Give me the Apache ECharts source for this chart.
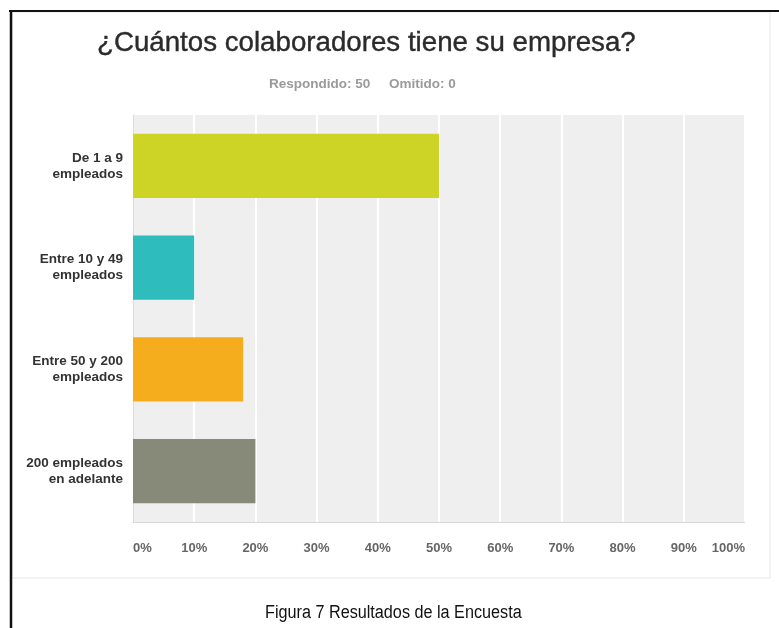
<!DOCTYPE html>
<html>
<head>
<meta charset="utf-8">
<script src="https://cdn.jsdelivr.net/npm/echarts@6/dist/echarts.min.js"></script>
<style>
html,body{margin:0;padding:0;background:#fff;}
#chart{width:779px;height:628px;}
</style>
</head>
<body>
<div id="chart"></div>
<script>
var categories = ['De 1 a 9\nempleados', 'Entre 10 y 49\nempleados', 'Entre 50 y 200\nempleados', '200 empleados\nen adelante'];
var values = [50, 10, 18, 20];
var barColors = ['#cdd426', '#2fbcbd', '#f5ad1e', '#888a79'];
var titleText = '¿Cuántos colaboradores tiene su empresa?';
var subtitleText = 'Respondido: 50     Omitido: 0';
var captionText = 'Figura 7 Resultados de la Encuesta';

var chart = echarts.init(document.getElementById('chart'), null, {renderer: 'canvas'});
var option = {
  backgroundColor: '#ffffff',
  animation: false,
  title: [
    {text: titleText, left: 92, top: 24,
     textStyle: {fontFamily: 'Liberation Sans, Arial, sans-serif', fontSize: 27.7, fontWeight: 'normal', color: '#2b2b2b', textBorderColor: '#2b2b2b', textBorderWidth: 0.4}},
    {text: subtitleText, left: 264, top: 72,
     textStyle: {fontFamily: 'Liberation Sans, Arial, sans-serif', fontSize: 13.5, fontWeight: 'bold', color: '#9a9a9a'}}
  ],
  graphic: [
    {type: 'rect', z: -10, shape: {x: 12, y: 12, width: 758, height: 566}, style: {fill: '#ffffff', stroke: '#e6e6e6', lineWidth: 1}},
    {type: 'rect', z: -5, shape: {x: 133, y: 115, width: 612, height: 407}, style: {fill: '#efefef'}},
    {type: 'line', shape: {x1: 9, y1: 11, x2: 779, y2: 11}, style: {stroke: '#111', lineWidth: 2}},
    {type: 'line', shape: {x1: 11, y1: 10, x2: 11, y2: 628}, style: {stroke: '#111', lineWidth: 2.5}},
    {type: 'text', x: 265, y: 604, scaleX: 0.9, originX: 0, originY: 0,
     style: {text: captionText, fontFamily: 'Liberation Sans, Arial, sans-serif', fontSize: 18, fill: '#111'}}
  ],
  grid: {left: 133, right: 34, top: 115, bottom: 106, containLabel: false},
  xAxis: {
    type: 'value', min: 0, max: 100, interval: 10,
    axisLine: {show: false},
    axisTick: {show: false},
    splitLine: {show: true, lineStyle: {color: '#ffffff', width: 2}},
    axisLabel: {formatter: '{value}%', color: '#666', fontSize: 13, fontWeight: 'bold',
      fontFamily: 'Liberation Sans, Arial, sans-serif', margin: 20,
      alignMinLabel: 'left', alignMaxLabel: 'right'}
  },
  yAxis: {
    type: 'category', data: categories, inverse: true,
    axisLine: {show: true, lineStyle: {color: '#dcdcdc'}},
    axisTick: {show: false},
    axisLabel: {color: '#333', fontSize: 13.5, fontWeight: 'bold', lineHeight: 16,
      fontFamily: 'Liberation Sans, Arial, sans-serif', margin: 10, align: 'right'}
  },
  series: [{
    type: 'bar',
    data: values.map(function(v, i){ return {value: v, itemStyle: {color: barColors[i]}}; }),
    barWidth: '63%',
    markLine: {silent: true, symbol: 'none', label: {show: false},
      lineStyle: {color: '#d8d8d8', type: 'solid', width: 1},
      data: [[{coord: [0, 3], y: 522}, {coord: [100, 3], y: 522}]]}
  }]
};
chart.setOption(option);
</script>
</body>
</html>
